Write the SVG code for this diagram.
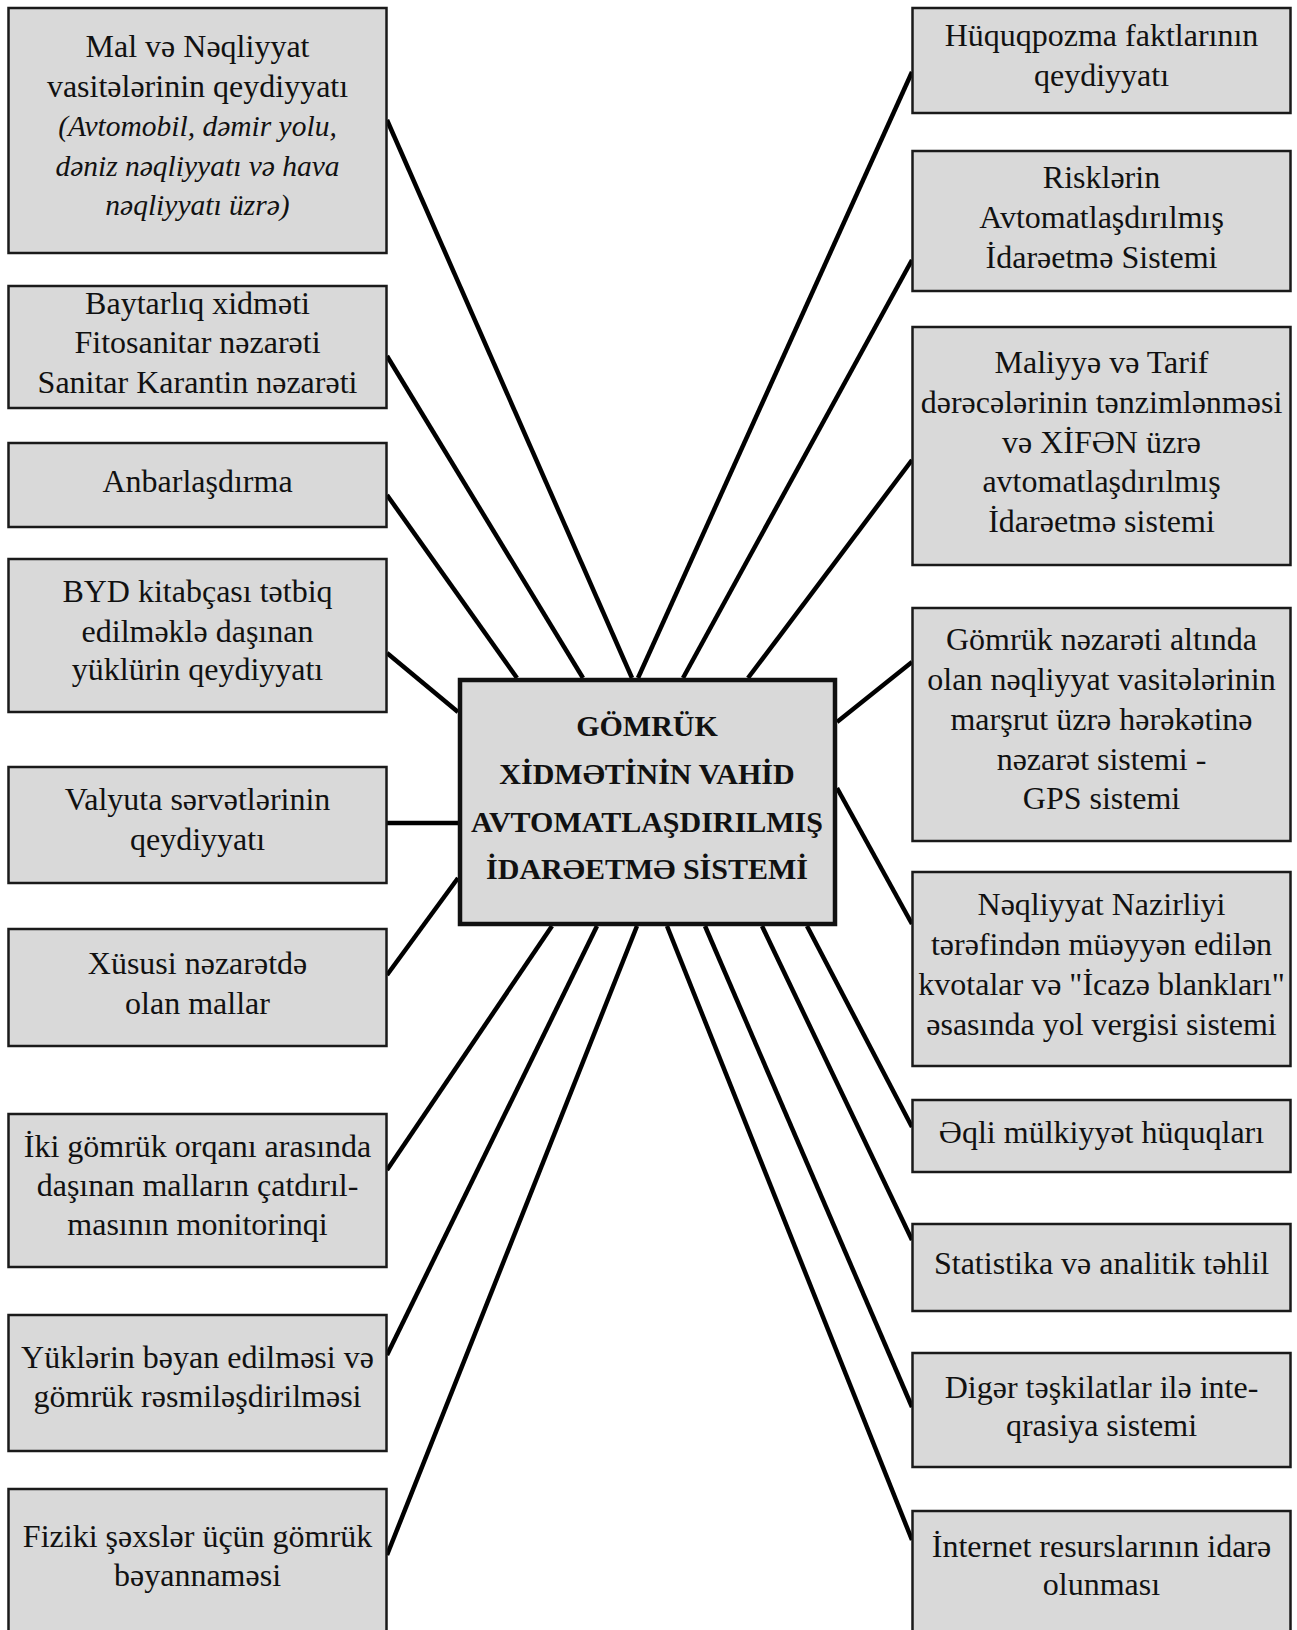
<svg xmlns="http://www.w3.org/2000/svg" width="1297" height="1630" viewBox="0 0 1297 1630">
<style>
.box{fill:#d9d9d9;stroke:#1a1a1a;stroke-width:2.5}
.cbox{fill:#d9d9d9;stroke:#111;stroke-width:4.5}
.t{font-family:"Liberation Serif","Times New Roman",serif;font-size:32px;fill:#111;text-anchor:middle}
.i{font-style:italic;font-size:29.5px}
.c{font-family:"Liberation Serif","Times New Roman",serif;font-size:30px;font-weight:bold;fill:#111;text-anchor:middle}
.ln{stroke:#000;stroke-width:4.5;fill:none}
</style>
<rect width="1297" height="1630" fill="#fff"/>
<g id="connectors">
<line class="ln" x1="387" y1="120" x2="632" y2="678"/>
<line class="ln" x1="387" y1="356" x2="583" y2="678"/>
<line class="ln" x1="387" y1="495" x2="517" y2="678"/>
<line class="ln" x1="387" y1="653" x2="458" y2="712"/>
<line class="ln" x1="387" y1="823" x2="458" y2="823"/>
<line class="ln" x1="387" y1="975" x2="458" y2="878"/>
<line class="ln" x1="387" y1="1170" x2="552" y2="926"/>
<line class="ln" x1="387" y1="1355" x2="597" y2="926"/>
<line class="ln" x1="387" y1="1555" x2="637" y2="926"/>
<line class="ln" x1="912" y1="72" x2="638" y2="678"/>
<line class="ln" x1="912" y1="260" x2="683" y2="678"/>
<line class="ln" x1="912" y1="460" x2="748" y2="678"/>
<line class="ln" x1="912" y1="662" x2="837" y2="722"/>
<line class="ln" x1="912" y1="924" x2="837" y2="788"/>
<line class="ln" x1="912" y1="1127" x2="807" y2="926"/>
<line class="ln" x1="912" y1="1240" x2="762" y2="926"/>
<line class="ln" x1="912" y1="1407" x2="705" y2="926"/>
<line class="ln" x1="912" y1="1540" x2="667" y2="926"/>
</g>
<g id="center">
<rect class="cbox" x="460" y="680" width="375" height="244"/>
<text class="c" x="647" y="736">GÖMRÜK</text>
<text class="c" x="647" y="784">XİDMƏTİNİN VAHİD</text>
<text class="c" x="647" y="832">AVTOMATLAŞDIRILMIŞ</text>
<text class="c" x="647" y="879">İDARƏETMƏ SİSTEMİ</text>
</g>
<g id="l1">
<rect class="box" x="8.5" y="8" width="378" height="245"/>
<text class="t" x="197.5" y="57">Mal və Nəqliyyat</text>
<text class="t" x="197.5" y="97">vasitələrinin qeydiyyatı</text>
<text class="t i" x="197.5" y="136">(Avtomobil, dəmir yolu,</text>
<text class="t i" x="197.5" y="176">dəniz nəqliyyatı və hava</text>
<text class="t i" x="197.5" y="215">nəqliyyatı üzrə)</text>
</g>
<g id="l2">
<rect class="box" x="8.5" y="286" width="378" height="122"/>
<text class="t" x="197.5" y="314">Baytarlıq xidməti</text>
<text class="t" x="197.5" y="353">Fitosanitar nəzarəti</text>
<text class="t" x="197.5" y="393">Sanitar Karantin nəzarəti</text>
</g>
<g id="l3">
<rect class="box" x="8.5" y="443" width="378" height="84"/>
<text class="t" x="197.5" y="492">Anbarlaşdırma</text>
</g>
<g id="l4">
<rect class="box" x="8.5" y="559" width="378" height="153"/>
<text class="t" x="197.5" y="602">BYD kitabçası tətbiq</text>
<text class="t" x="197.5" y="642">edilməklə daşınan</text>
<text class="t" x="197.5" y="680">yüklürin qeydiyyatı</text>
</g>
<g id="l5">
<rect class="box" x="8.5" y="767" width="378" height="116"/>
<text class="t" x="197.5" y="810">Valyuta sərvətlərinin</text>
<text class="t" x="197.5" y="850">qeydiyyatı</text>
</g>
<g id="l6">
<rect class="box" x="8.5" y="929" width="378" height="117"/>
<text class="t" x="197.5" y="974">Xüsusi nəzarətdə</text>
<text class="t" x="197.5" y="1014">olan mallar</text>
</g>
<g id="l7">
<rect class="box" x="8.5" y="1114" width="378" height="153"/>
<text class="t" x="197.5" y="1157">İki gömrük orqanı arasında</text>
<text class="t" x="197.5" y="1196">daşınan malların çatdırıl-</text>
<text class="t" x="197.5" y="1235">masının monitorinqi</text>
</g>
<g id="l8">
<rect class="box" x="8.5" y="1315" width="378" height="136"/>
<text class="t" x="197.5" y="1368">Yüklərin bəyan edilməsi və</text>
<text class="t" x="197.5" y="1407">gömrük rəsmiləşdirilməsi</text>
</g>
<g id="l9">
<rect class="box" x="8.5" y="1489" width="378" height="160"/>
<text class="t" x="197.5" y="1547">Fiziki şəxslər üçün gömrük</text>
<text class="t" x="197.5" y="1586">bəyannaməsi</text>
</g>
<g id="r1">
<rect class="box" x="912.5" y="8" width="378" height="105"/>
<text class="t" x="1101.5" y="46">Hüquqpozma faktlarının</text>
<text class="t" x="1101.5" y="86">qeydiyyatı</text>
</g>
<g id="r2">
<rect class="box" x="912.5" y="151" width="378" height="140"/>
<text class="t" x="1101.5" y="188">Risklərin</text>
<text class="t" x="1101.5" y="228">Avtomatlaşdırılmış</text>
<text class="t" x="1101.5" y="268">İdarəetmə Sistemi</text>
</g>
<g id="r3">
<rect class="box" x="912.5" y="327" width="378" height="238"/>
<text class="t" x="1101.5" y="373">Maliyyə və Tarif</text>
<text class="t" x="1101.5" y="413">dərəcələrinin tənzimlənməsi</text>
<text class="t" x="1101.5" y="453">və XİFƏN üzrə</text>
<text class="t" x="1101.5" y="492">avtomatlaşdırılmış</text>
<text class="t" x="1101.5" y="532">İdarəetmə sistemi</text>
</g>
<g id="r4">
<rect class="box" x="912.5" y="608" width="378" height="233"/>
<text class="t" x="1101.5" y="650">Gömrük nəzarəti altında</text>
<text class="t" x="1101.5" y="690">olan nəqliyyat vasitələrinin</text>
<text class="t" x="1101.5" y="730">marşrut üzrə hərəkətinə</text>
<text class="t" x="1101.5" y="770">nəzarət sistemi -</text>
<text class="t" x="1101.5" y="809">GPS sistemi</text>
</g>
<g id="r5">
<rect class="box" x="912.5" y="872" width="378" height="194"/>
<text class="t" x="1101.5" y="915">Nəqliyyat Nazirliyi</text>
<text class="t" x="1101.5" y="955">tərəfindən müəyyən edilən</text>
<text class="t" x="1101.5" y="995">kvotalar və "İcazə blankları"</text>
<text class="t" x="1101.5" y="1035">əsasında yol vergisi sistemi</text>
</g>
<g id="r6">
<rect class="box" x="912.5" y="1100" width="378" height="72"/>
<text class="t" x="1101.5" y="1143">Əqli mülkiyyət hüquqları</text>
</g>
<g id="r7">
<rect class="box" x="912.5" y="1224" width="378" height="87"/>
<text class="t" x="1101.5" y="1274">Statistika və analitik təhlil</text>
</g>
<g id="r8">
<rect class="box" x="912.5" y="1353" width="378" height="114"/>
<text class="t" x="1101.5" y="1398">Digər təşkilatlar ilə inte-</text>
<text class="t" x="1101.5" y="1436">qrasiya sistemi</text>
</g>
<g id="r9">
<rect class="box" x="912.5" y="1511" width="378" height="140"/>
<text class="t" x="1101.5" y="1557">İnternet resurslarının idarə</text>
<text class="t" x="1101.5" y="1595">olunması</text>
</g>
</svg>
